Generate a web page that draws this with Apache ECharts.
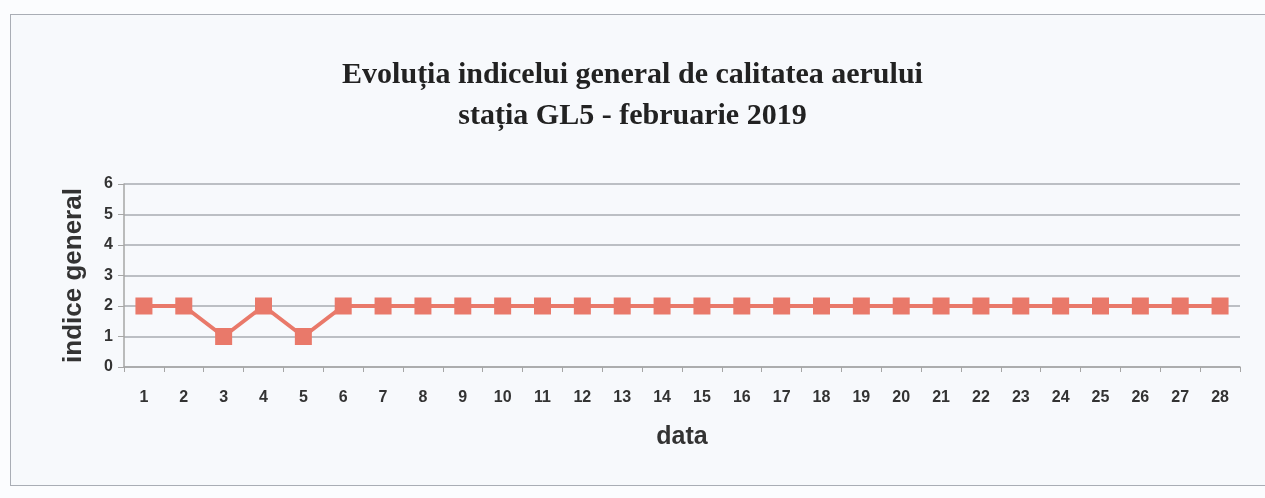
<!DOCTYPE html>
<html>
<head>
<meta charset="utf-8">
<script src="https://cdn.jsdelivr.net/npm/echarts@6/dist/echarts.min.js"></script>
<style>
html,body{margin:0;padding:0;background:#fbfcfe;}
#frame{position:absolute;left:10px;top:14px;width:1270px;height:470px;border:1px solid #a9adb5;background:#f7f9fc;}
#chart{position:absolute;left:0;top:0;width:1265px;height:498px;}
</style>
</head>
<body>
<div id="frame"></div>
<div id="chart"></div>
<script>
const titleLines = ['Evoluția indicelui general de calitatea aerului', 'stația GL5 - februarie 2019'];
const days = ['1','2','3','4','5','6','7','8','9','10','11','12','13','14','15','16','17','18','19','20','21','22','23','24','25','26','27','28'];
const indiceGeneral = [2,2,1,2,1,2,2,2,2,2,2,2,2,2,2,2,2,2,2,2,2,2,2,2,2,2,2,2];
const yTicks = {min:0, max:6, interval:1};
const xName = 'data';
const yName = 'indice general';

const chart = echarts.init(document.getElementById('chart'), null, {renderer:'canvas'});
chart.setOption({
  backgroundColor: 'transparent',
  animation: false,
  title: {
    text: titleLines.join('\n'),
    left: 'center', top: 50,
    textStyle: {fontFamily:'Liberation Serif', fontWeight:'bold', fontSize:30, color:'#222', lineHeight:41}
  },
  grid: {left:124, right:25, top:184, bottom:131},
  xAxis: {
    type:'category', data: days, boundaryGap:true,
    name: xName, nameLocation:'middle', nameGap:58,
    nameTextStyle:{fontFamily:'Liberation Sans', fontWeight:'bold', fontSize:25, color:'#333'},
    axisLine:{lineStyle:{color:'#a6a6a6', width:1.5}},
    axisTick:{show:true, alignWithLabel:false, length:5, lineStyle:{color:'#a6a6a6'}},
    axisLabel:{fontFamily:'Liberation Sans', fontWeight:'bold', fontSize:16, color:'#333', margin:23}
  },
  yAxis: {
    type:'value', min:yTicks.min, max:yTicks.max, interval:yTicks.interval,
    name: yName, nameLocation:'middle', nameGap:37, nameRotate:90,
    nameTextStyle:{fontFamily:'Liberation Sans', fontWeight:'bold', fontSize:26, color:'#333'},
    axisLine:{show:true, lineStyle:{color:'#a6a6a6', width:1.5}},
    axisTick:{show:true, length:6, lineStyle:{color:'#a6a6a6'}},
    axisLabel:{fontFamily:'Liberation Sans', fontWeight:'bold', fontSize:16, color:'#333', margin:11},
    splitLine:{show:true, lineStyle:{color:'#a9abb2', width:1.5}}
  },
  series: [{
    type:'line', data: indiceGeneral,
    symbol:'rect', symbolSize:17,
    lineStyle:{color:'#e9796a', width:4},
    itemStyle:{color:'#e9796a'}
  }]
});
</script>
</body>
</html>
